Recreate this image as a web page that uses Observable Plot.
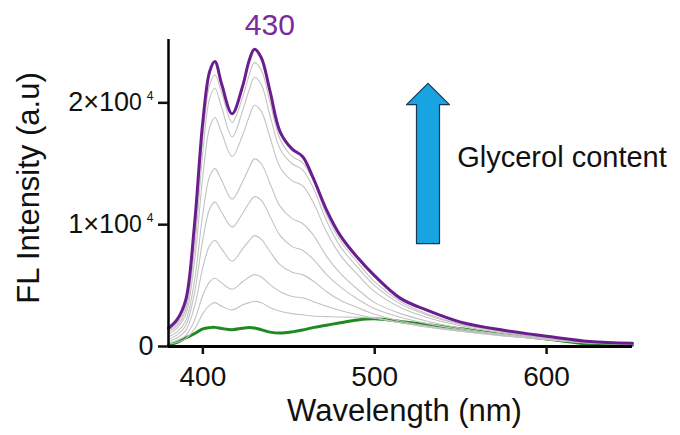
<!DOCTYPE html>
<html>
<head>
<meta charset="utf-8">
<script src="https://cdn.jsdelivr.net/npm/d3@7"></script>
<script src="https://cdn.jsdelivr.net/npm/@observablehq/plot@0.6"></script>
<style>
  html, body { margin: 0; padding: 0; background: #fff; }
  #chart svg { display: block; font-family: "Liberation Sans", Arial, sans-serif; }
</style>
</head>
<body>
<div id="chart"></div>
<script>
// Wavelength grid (nm)
const wl = [380, 385, 390, 395, 400, 404, 407, 411, 417, 423, 427, 430, 434, 439, 445, 452, 458, 464, 472, 480, 490, 500, 515, 530, 550, 575, 600, 625, 650];

// Highest glycerol content (purple)
const purple = [1500, 2200, 3800, 9800, 18500, 22600, 23400, 21500, 19100, 21300, 23500, 24400, 23700, 21000, 17600, 16200, 15600, 13900, 11200, 9100, 7300, 5800, 3950, 3000, 2000, 1330, 850, 420, 270];
// Lowest glycerol content (green)
const green = [140, 350, 700, 1050, 1450, 1550, 1570, 1480, 1380, 1500, 1560, 1520, 1380, 1180, 1100, 1200, 1350, 1550, 1750, 1950, 2180, 2270, 2050, 1800, 1450, 1000, 620, 200, 100];
// Intermediate glycerol contents (gray)
const gray1 = [1300, 1900, 3300, 8600, 17200, 21500, 22300, 20800, 18400, 20400, 22300, 23300, 22700, 20100, 17000, 15600, 15100, 13700, 10800, 8700, 6900, 5300, 3700, 2700, 1850, 1250, 780, 400, 250];
const gray2 = [1200, 1700, 3000, 7800, 16000, 20400, 21200, 19600, 17200, 19300, 21100, 22100, 21500, 19000, 16200, 15000, 14500, 13100, 10300, 8200, 6500, 5000, 3500, 2600, 1800, 1200, 750, 380, 240];
const gray3 = [1000, 1500, 2600, 6800, 14000, 18000, 18800, 17500, 15600, 17300, 18900, 19800, 19300, 17200, 14700, 13600, 13200, 11900, 9400, 7500, 5900, 4500, 3200, 2400, 1700, 1100, 700, 360, 230];
const gray4 = [800, 1200, 2100, 5300, 10900, 14000, 14600, 13600, 12100, 13500, 14700, 15400, 15000, 13400, 11500, 10500, 10100, 9200, 7400, 6000, 4700, 3600, 2700, 2100, 1500, 1000, 650, 340, 220];
const gray5 = [600, 950, 1700, 4300, 8800, 11300, 11850, 11000, 9800, 10900, 11800, 12300, 12000, 10700, 9100, 8200, 7900, 7200, 5900, 4900, 3900, 3100, 2400, 1900, 1400, 950, 620, 320, 210];
const gray6 = [450, 700, 1300, 3200, 6500, 8300, 8700, 8000, 7000, 8000, 8700, 9100, 8800, 7800, 6700, 6100, 5900, 5400, 4500, 3800, 3200, 2650, 2100, 1700, 1300, 900, 600, 310, 200];
const gray7 = [300, 500, 900, 2100, 4200, 5300, 5600, 5200, 4700, 5300, 5700, 5900, 5700, 5100, 4500, 4100, 4000, 3700, 3300, 2950, 2600, 2350, 1950, 1600, 1250, 870, 580, 300, 190];
const gray8 = [200, 350, 650, 1400, 2700, 3400, 3600, 3300, 3000, 3400, 3600, 3700, 3600, 3200, 2900, 2700, 2600, 2500, 2450, 2420, 2400, 2330, 1950, 1620, 1250, 870, 570, 290, 180];
const grays = [gray1, gray2, gray3, gray4, gray5, gray6, gray7, gray8];

// Axis ticks
const xTicks = [400, 500, 600];
const yTicks = [0, 10000, 20000];

// Annotations
const peakLabel = "430";
const arrowLabel = "Glycerol content";
const xLabel = "Wavelength (nm)";
const yLabel = "FL Intensity (a.u)";
// Block arrow outline in data units (nm, intensity)
const arrowX = [531, 543.5, 537.7, 537.7, 524.3, 524.3, 518.5, 531];
const arrowY = [21600, 19850, 19850, 8450, 8450, 19850, 19850, 21600];

const toRows = (ys, s) => wl.map((x, i) => ({x, y: ys[i], s}));
const grayRows = grays.flatMap((g, k) => toRows(g, "g" + k));
const greenRows = toRows(green, "green");
const purpleRows = toRows(purple, "purple");
const arrowRows = arrowX.map((x, i) => ({x, y: arrowY[i]}));

const font = "Liberation Sans, Arial, sans-serif";

const chart = Plot.plot({
  width: 680,
  height: 435,
  marginLeft: 168,
  marginRight: 48,
  marginTop: 39,
  marginBottom: 89,
  style: {fontFamily: font, background: "#fff", color: "#111"},
  x: {domain: [380, 650]},
  y: {domain: [0, 25200]},
  marks: [
    Plot.line(greenRows, {x: "x", y: "y", stroke: "#1f8a1f", strokeWidth: 3, curve: "catmull-rom"}),
    Plot.line(grayRows, {x: "x", y: "y", z: "s", stroke: "#c3c3c3", strokeWidth: 1.1, curve: "catmull-rom"}),
    Plot.line(purpleRows, {x: "x", y: "y", stroke: "#6b1d8e", strokeWidth: 3, curve: "catmull-rom"}),
    Plot.line(arrowRows, {x: "x", y: "y", fill: "#18a4e0", stroke: "#1c3550", strokeWidth: 1.2, curve: "linear"}),
    Plot.ruleX([380], {stroke: "#000", strokeWidth: 2.5}),
    Plot.ruleY([0], {stroke: "#000", strokeWidth: 3}),
    Plot.axisX({ticks: xTicks, tickSize: 8, tickPadding: 12, fontSize: 28, label: null, strokeWidth: 2.5, tickFormat: d => String(d)}),
    Plot.axisY({ticks: yTicks, tickSize: 10, tickPadding: 5, fontSize: 27, label: null, strokeWidth: 2.5,
      tickFormat: d => d === 0 ? "0" : `${d / 10000}×10`}),
    Plot.text([peakLabel], {x: 439, y: 25200, text: d => d, fill: "#7a2a9c", fontSize: 30, dy: -5, lineAnchor: "bottom"}),
    Plot.text([arrowLabel], {x: 548, y: 15500, text: d => d, fill: "#111", fontSize: 29, textAnchor: "start", lineAnchor: "middle"}),
    Plot.text([xLabel], {frameAnchor: "bottom", text: d => d, fontSize: 31, dx: 4, dy: 65, textAnchor: "middle", lineAnchor: "middle", fill: "#111"}),
    Plot.text([yLabel], {frameAnchor: "left", text: d => d, fontSize: 31, rotate: -90, dx: -139, dy: -5, textAnchor: "middle", lineAnchor: "middle", fill: "#111"})
  ]
});

// Render the odd exponent notation of the y tick labels ("2×10⁰ ⁴")
d3.select(chart).selectAll('g[aria-label="y-axis tick label"] text').each(function() {
  const t = d3.select(this);
  const s = t.text();
  if (s === "0") return;
  t.text(null);
  t.append("tspan").text(s);
  t.append("tspan").attr("font-size", 23).attr("dy", "-1").text("0");
  t.append("tspan").attr("font-size", 12).attr("dy", "-10").attr("dx", "5").text("4");
});

document.getElementById("chart").appendChild(chart);
</script>
</body>
</html>
